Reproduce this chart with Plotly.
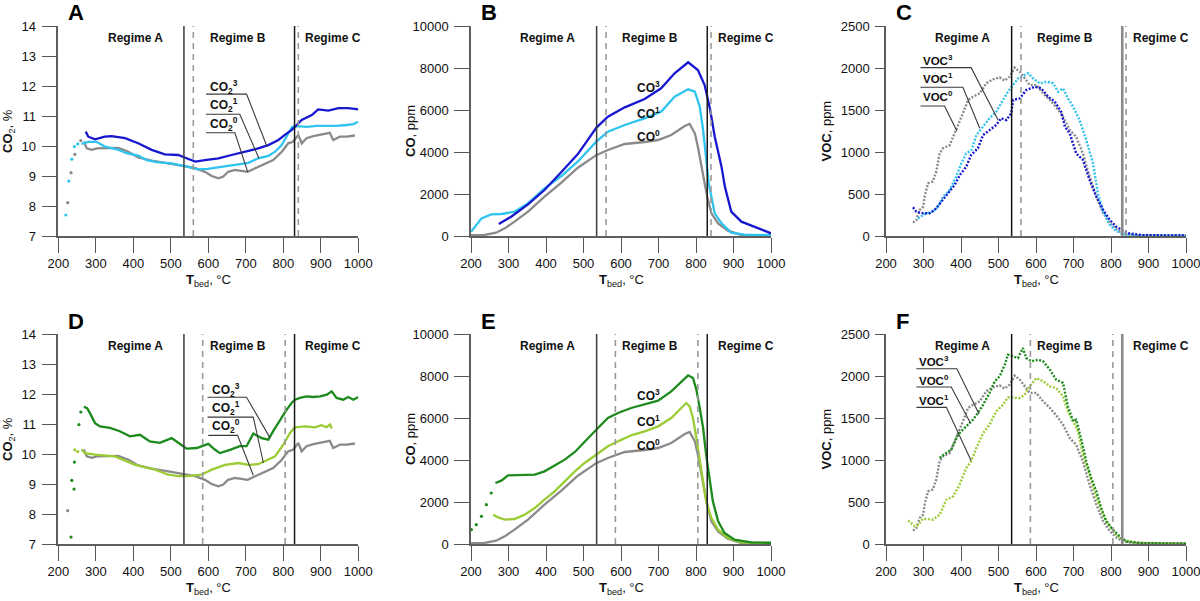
import plotly.graph_objects as go

# ---------------- DATA ----------------
T_CO2_REF_DOTS = [225, 234, 244, 260]
CO2_REF_DOTS = [8.11, 9.11, 9.72, 10.18]
T_CO2_REF = [268, 276, 289, 303, 360, 387, 413, 449, 493, 538, 565, 591, 609, 627, 640,
             653, 671, 689, 705, 725, 751, 773, 796, 813, 826, 840, 849, 862, 880, 898,
             916, 924, 933, 951, 969, 991]
CO2_REF = [10.15, 9.92, 9.87, 9.92, 9.94, 9.81, 9.62, 9.51, 9.42, 9.33, 9.26, 9.14, 9.00, 8.92, 8.98,
           9.14, 9.20, 9.17, 9.14, 9.26, 9.40, 9.53, 9.81, 10.09, 10.14, 10.37, 10.09, 10.26, 10.33, 10.37,
           10.42, 10.44, 10.20, 10.31, 10.31, 10.35]

T_A1_DOTS = [220, 228, 236, 243, 252]
CO2_A1_DOTS = [7.70, 8.83, 9.56, 9.98, 10.07]
T_A1 = [262, 280, 302, 324, 356, 382, 413, 436, 462, 502, 538, 573, 598, 636, 671,
        707, 733, 760, 778, 796, 813, 824, 836, 862, 889, 916, 942, 969, 987, 1000]
CO2_A1 = [10.07, 10.14, 10.14, 9.98, 9.89, 9.76, 9.68, 9.53, 9.46, 9.42, 9.33, 9.22, 9.24, 9.31, 9.37,
          9.44, 9.59, 9.67, 9.81, 10.03, 10.42, 10.64, 10.66, 10.64, 10.67, 10.67, 10.67, 10.70, 10.73, 10.81]
T_A3 = [273, 280, 298, 324, 342, 378, 413, 449, 484, 520, 542, 565, 591, 627, 662,
        698, 733, 760, 787, 804, 822, 836, 849, 876, 893, 920, 947, 973, 1000]
CO2_A3 = [10.48, 10.31, 10.22, 10.31, 10.33, 10.26, 10.09, 9.87, 9.72, 9.70, 9.59, 9.48, 9.53, 9.59, 9.70,
          9.81, 9.92, 10.03, 10.20, 10.37, 10.53, 10.70, 10.87, 11.03, 11.22, 11.18, 11.26, 11.26, 11.22]

T_D1_DOTS = [244, 252]
CO2_D1_DOTS = [10.14, 10.08]
T_D1 = [262, 271, 298, 351, 405, 458, 493, 520, 547, 582, 609, 645, 680, 707, 733,
        751, 778, 800, 818, 831, 858, 884, 902, 915, 925, 929]
CO2_D1 = [10.15, 10.03, 9.98, 9.92, 9.64, 9.48, 9.31, 9.26, 9.26, 9.31, 9.48, 9.64, 9.70, 9.64, 9.66,
          9.76, 9.92, 10.31, 10.70, 10.89, 10.92, 10.89, 10.96, 10.89, 10.98, 10.85]
T_D3_DOTS = [234, 236, 242, 243, 255, 260]
CO2_D3_DOTS = [7.23, 9.12, 8.83, 9.73, 10.98, 11.40]
T_D3 = [268, 277, 284, 298, 311, 338, 364, 391, 418, 444, 471, 502, 524, 542, 569,
        600, 618, 631, 658, 684, 702, 720, 742, 760, 773, 791, 809, 822, 831, 844,
        862, 880, 898, 916, 929, 942, 960, 973, 987, 1000]
CO2_D3 = [11.57, 11.53, 11.37, 11.03, 10.92, 10.87, 10.76, 10.59, 10.64, 10.42, 10.37, 10.53, 10.34, 10.18, 10.20,
          10.34, 10.14, 10.03, 10.14, 10.26, 10.26, 10.68, 10.53, 10.48, 10.76, 11.14, 11.48, 11.70, 11.81, 11.87,
          11.92, 11.90, 11.92, 11.98, 12.09, 11.87, 11.81, 11.90, 11.81, 11.90]

T_CO_REF = [200, 236, 267, 290, 316, 352, 396, 441, 485, 534, 565, 610, 663, 699, 734,
            770, 783, 797, 805, 814, 823, 830, 841, 859, 885, 920, 1000]
CO_REF = [40, 50, 159, 365, 683, 1159, 1873, 2540, 3250, 3850, 4095, 4381, 4476, 4571, 4810,
          5238, 5333, 4889, 4254, 3302, 2508, 1873, 1080, 603, 254, 50, 30]

T_B1 = [200, 228, 254, 281, 316, 352, 396, 441, 485, 534, 565, 610, 663, 707, 743,
        779, 797, 810, 819, 827, 834, 841, 850, 868, 894, 930, 1000]
CO_B1 = [200, 841, 1032, 1048, 1159, 1555, 2270, 2857, 3550, 4492, 4968, 5286, 5603, 5921, 6635,
         6984, 6873, 6159, 5048, 3619, 2508, 1873, 1080, 603, 159, 60, 40]
T_B3 = [274, 307, 352, 396, 441, 485, 534, 565, 610, 663, 707, 743, 779, 805, 823,
        837, 850, 868, 877, 894, 921, 965, 1000]
CO_B3 = [571, 920, 1508, 2190, 3050, 3900, 5150, 5682, 6127, 6524, 7032, 7746, 8270, 7905, 7190,
         6080, 4730, 3302, 2350, 1160, 683, 365, 127]

T_E1 = [259, 272, 290, 316, 343, 370, 396, 423, 450, 477, 503, 534, 565, 592, 627,
        663, 699, 734, 761, 774, 783, 792, 801, 810, 819, 827, 841, 859, 885, 920, 1000]
CO_E1 = [1397, 1270, 1159, 1190, 1397, 1714, 2111, 2508, 2984, 3460, 3857, 4254, 4651, 4889, 5175,
         5365, 5603, 6000, 6476, 6714, 6555, 6000, 5048, 3937, 2984, 2032, 1238, 683, 286, 80, 40]
T_E3_DOTS = [201, 214, 228, 241, 254]
CO_E3_DOTS = [683, 920, 1317, 1873, 2429]
T_E3 = [265, 281, 299, 325, 370, 396, 423, 450, 477, 503, 534, 565, 592, 627, 663,
        699, 734, 761, 779, 792, 801, 810, 819, 827, 836, 845, 859, 876, 903, 947, 1000]
CO_E3 = [2905, 3016, 3270, 3270, 3302, 3460, 3746, 4016, 4381, 4889, 5444, 6000, 6238, 6476, 6635,
         6825, 7270, 7746, 8032, 7905, 7350, 6476, 5524, 4254, 3143, 2032, 1079, 524, 206, 80, 60]

T_VOC_REF = [272, 281, 290, 299, 303, 312, 325, 334, 343, 352, 370, 383, 392, 405, 419,
             432, 450, 467, 485, 503, 516, 530, 543, 557, 570, 583, 601, 619, 637, 654,
             672, 690, 707, 725, 743, 761, 779, 797, 814, 832, 868, 1000]
VOC_REF = [159, 190, 310, 349, 468, 627, 650, 766, 984, 1044, 1083, 1222, 1302, 1460, 1619,
           1658, 1698, 1817, 1865, 1889, 1850, 1897, 2004, 1956, 1877, 1798, 1798, 1698, 1619, 1532,
           1420, 1262, 1182, 984, 706, 468, 270, 151, 80, 30, 10, 5]

T_C1 = [285, 307, 325, 339, 352, 370, 387, 401, 414, 428, 441, 459, 476, 494, 512,
        525, 539, 552, 579, 592, 610, 628, 646, 659, 672, 685, 699, 716, 734, 752,
        765, 779, 797, 814, 832, 868, 1000]
VOC_C1 = [210, 270, 290, 349, 468, 547, 706, 865, 984, 1023, 1202, 1302, 1401, 1480, 1619,
          1718, 1798, 1877, 1937, 1877, 1817, 1837, 1817, 1718, 1758, 1639, 1540, 1381, 1143, 865,
          508, 290, 131, 60, 20, 8, 5]
T_C3 = [272, 281, 299, 316, 330, 348, 365, 383, 397, 414, 427, 445, 459, 476, 494,
        507, 521, 534, 539, 557, 574, 597, 614, 632, 650, 667, 677, 690, 707, 725,
        743, 761, 779, 797, 814, 832, 850, 885, 1000]
VOC_C3 = [341, 290, 270, 270, 310, 409, 508, 607, 726, 825, 964, 1044, 1202, 1262, 1321,
          1401, 1381, 1460, 1619, 1639, 1738, 1778, 1758, 1658, 1599, 1480, 1302, 1222, 984, 905,
          667, 468, 310, 190, 111, 64, 30, 10, 5]

T_F1 = [259, 277, 286, 299, 325, 343, 361, 379, 396, 414, 427, 441, 459, 476, 494,
        512, 525, 543, 557, 570, 583, 601, 619, 637, 654, 672, 685, 699, 712, 725,
        743, 761, 779, 797, 814, 832, 868, 1000]
VOC_F1 = [278, 210, 230, 302, 290, 349, 528, 567, 706, 905, 984, 1143, 1321, 1420, 1580,
          1658, 1746, 1746, 1738, 1778, 1877, 1976, 1937, 1877, 1857, 1758, 1580, 1460, 1341, 1063,
          825, 548, 349, 210, 111, 50, 15, 5]
T_F3 = [343, 356, 374, 392, 405, 419, 432, 445, 459, 476, 490, 503, 517, 525, 539,
        552, 565, 574, 588, 606, 619, 637, 654, 672, 685, 699, 707, 721, 734, 747,
        761, 774, 787, 805, 823, 841, 885, 1000]
VOC_F3 = [1024, 1071, 1123, 1301, 1361, 1420, 1480, 1560, 1658, 1798, 1937, 1996, 2135, 2254, 2234,
          2214, 2333, 2214, 2175, 2194, 2175, 2075, 1956, 1917, 1639, 1460, 1480, 1242, 984, 786,
          627, 428, 270, 171, 91, 30, 10, 5]

SOLID_TOP = [535, 830]
DASH_TOP = [560, 840]
SOLID_BOT = [535, 830]
DASH_BOT = [585, 805]
REGIME_NAMES = ["Regime A", "Regime B", "Regime C"]
REGIME_X = [405, 678, 933]

# ---------------- STYLE / LAYOUT ----------------
FONT = "Liberation Sans, Arial, Helvetica, sans-serif"
BLUE = "#1717cf"
CYAN = "#2fc4ef"
GRAY = "#8a8a8a"
DGREEN = "#1c8a1c"
LGREEN = "#9bcb35"
AXC = "#5e5e5e"
TICKC = "#555555"

W, H = 1200, 601
COLS = [(58.3, 358.3), (471.0, 771.0), (886.0, 1186.0)]
ROWS = [(26.0, 236.0), (334.0, 544.0)]
XMIN, XMAX, XMINOR = 200, 1000, 20


def pxx(px):
    return px / W


def pxy(py):
    return (H - py) / H


panels = [
    dict(i=1, c=0, r=0, yr=[7, 14], dt=1, mdt=0.2, letter="A", yt="<b>CO</b><sub>2</sub>, %", tl=15, mtl=7),
    dict(i=2, c=1, r=0, yr=[0, 10000], dt=2000, mdt=400, letter="B", yt="<b>CO</b>, ppm", tl=15, mtl=7),
    dict(i=3, c=2, r=0, yr=[0, 2500], dt=500, mdt=100, letter="C", yt="<b>VOC</b>, ppm", tl=9, mtl=5),
    dict(i=4, c=0, r=1, yr=[7, 14], dt=1, mdt=0.2, letter="D", yt="<b>CO</b><sub>2</sub>, %", tl=15, mtl=7),
    dict(i=5, c=1, r=1, yr=[0, 10000], dt=2000, mdt=400, letter="E", yt="<b>CO</b>, ppm", tl=15, mtl=7),
    dict(i=6, c=2, r=1, yr=[0, 2500], dt=500, mdt=100, letter="F", yt="<b>VOC</b>, ppm", tl=9, mtl=5),
]

fig = go.Figure()


def ax(i):
    return ("x" if i == 1 else f"x{i}"), ("y" if i == 1 else f"y{i}")


def add(i, x, y, color, width=2.3, dash=None, mode="lines", msize=3.2):
    xa, ya = ax(i)
    fig.add_trace(go.Scatter(
        x=x, y=y, mode=mode, xaxis=xa, yaxis=ya, showlegend=False, hoverinfo="skip",
        line=dict(color=color, width=width, dash=dash),
        marker=dict(color=color, size=msize),
    ))


VOCDASH = "2px,1.6px"

add(1, T_CO2_REF_DOTS, CO2_REF_DOTS, GRAY, mode="markers")
add(1, T_CO2_REF, CO2_REF, GRAY)
add(1, T_A1_DOTS, CO2_A1_DOTS, CYAN, mode="markers")
add(1, T_A1, CO2_A1, CYAN)
add(1, T_A3, CO2_A3, BLUE)
add(2, T_CO_REF, CO_REF, GRAY)
add(2, T_B1, CO_B1, CYAN)
add(2, T_B3, CO_B3, BLUE)
add(3, T_VOC_REF, VOC_REF, GRAY, width=2.4, dash=VOCDASH)
add(3, T_C1, VOC_C1, CYAN, width=2.4, dash=VOCDASH)
add(3, T_C3, VOC_C3, BLUE, width=2.4, dash=VOCDASH)
add(4, T_CO2_REF_DOTS[:1], CO2_REF_DOTS[:1], GRAY, mode="markers")
add(4, T_CO2_REF, CO2_REF, GRAY)
add(4, T_D1_DOTS, CO2_D1_DOTS, LGREEN, mode="markers")
add(4, T_D1, CO2_D1, LGREEN)
add(4, T_D3_DOTS, CO2_D3_DOTS, DGREEN, mode="markers")
add(4, T_D3, CO2_D3, DGREEN)
add(5, T_CO_REF, CO_REF, GRAY)
add(5, T_E1, CO_E1, LGREEN)
add(5, T_E3_DOTS, CO_E3_DOTS, DGREEN, mode="markers")
add(5, T_E3, CO_E3, DGREEN)
add(6, T_VOC_REF, VOC_REF, GRAY, width=2.4, dash=VOCDASH)
add(6, T_F1, VOC_F1, LGREEN, width=2.4, dash=VOCDASH)
add(6, T_F3, VOC_F3, DGREEN, width=2.4, dash=VOCDASH)

layout = dict(
    width=W, height=H, margin=dict(l=0, r=0, t=0, b=0, autoexpand=False),
    paper_bgcolor="white", plot_bgcolor="rgba(0,0,0,0)",
    font=dict(family=FONT, size=13, color="#111"),
    showlegend=False,
)
shapes = []
annotations = []

for p in panels:
    i = p["i"]
    c0, c1 = COLS[p["c"]]
    r0, r1 = ROWS[p["r"]]
    xa, ya = ax(i)
    xkey = "xaxis" if i == 1 else f"xaxis{i}"
    ykey = "yaxis" if i == 1 else f"yaxis{i}"
    layout[xkey] = dict(
        domain=[pxx(c0), pxx(c1)], anchor=ya, range=[XMIN, XMAX], automargin=False,
        tickmode="linear", tick0=XMIN, dtick=100, tickformat="d", ticklabeloverflow="allow",
        showline=True, linecolor=AXC, linewidth=1.5, showgrid=False, zeroline=False,
        ticks="outside", ticklen=15, tickwidth=1.4, tickcolor=TICKC,
        tickfont=dict(family=FONT, size=13, color="#111"),
    )
    layout[ykey] = dict(
        domain=[pxy(r1), pxy(r0)], anchor=xa, range=p["yr"], automargin=False,
        tickmode="linear", dtick=p["dt"], tick0=p["yr"][0], tickformat="d", ticklabeloverflow="allow",
        showline=True, linecolor=AXC, linewidth=1.5, showgrid=False, zeroline=False,
        ticks="outside", ticklen=p["tl"], tickwidth=1.4, tickcolor=TICKC,
        ticklabelstandoff=3, tickfont=dict(family=FONT, size=13, color="#111"),
    )

    # ---- tick marks (major + minor) as unclipped line-shaped markers just outside the axes ----
    y0, y1 = p["yr"]
    xs_per_px = (XMAX - XMIN) / (c1 - c0)
    ys_per_px = (y1 - y0) / (r1 - r0)
    nx = int((XMAX - XMIN) / XMINOR)
    tx, ty, ts = [], [], []
    for k in range(nx + 1):
        v = XMIN + k * XMINOR
        ln = 16 if v % 100 == 0 else 9
        tx.append(v)
        ty.append(y0 - ln / 2 * ys_per_px)
        ts.append(ln)
    fig.add_trace(go.Scatter(x=tx, y=ty, mode="markers", xaxis=xa, yaxis=ya, cliponaxis=False,
                             marker=dict(symbol="line-ns-open", size=ts, color=TICKC,
                                         line=dict(color=TICKC, width=1.4)),
                             showlegend=False, hoverinfo="skip"))
    ny = int(round((y1 - y0) / p["mdt"]))
    per = int(round(p["dt"] / p["mdt"]))
    ux, uy, us = [], [], []
    for k in range(ny + 1):
        v = y0 + k * p["mdt"]
        ln = p["tl"] if k % per == 0 else p["mtl"]
        ux.append(XMIN - ln / 2 * xs_per_px)
        uy.append(v)
        us.append(ln)
    fig.add_trace(go.Scatter(x=ux, y=uy, mode="markers", xaxis=xa, yaxis=ya, cliponaxis=False,
                             marker=dict(symbol="line-ew-open", size=us, color=TICKC,
                                         line=dict(color=TICKC, width=1.4)),
                             showlegend=False, hoverinfo="skip"))

    solids = SOLID_TOP if p["r"] == 0 else SOLID_BOT
    dashes = DASH_TOP if p["r"] == 0 else DASH_BOT
    for k, v in enumerate(solids):
        if p["c"] == 2 and k == 1:
            st = dict(color="#8a8a8a", width=2.6)
        elif p["c"] == 2:
            st = dict(color="#111", width=1.5)
        else:
            st = dict(color="#3c3c3c" if k == 0 else "#1a1a1a", width=1.5)
        shapes.append(dict(type="line", xref=xa, yref=f"{ya} domain", x0=v, x1=v, y0=0, y1=1, line=st, layer="above"))
    for v in dashes:
        shapes.append(dict(type="line", xref=xa, yref=f"{ya} domain", x0=v, x1=v, y0=0, y1=1,
                           line=dict(color="#9a9a9a", width=1.6, dash="6px,5px"), layer="above"))

    for name, xv in zip(REGIME_NAMES, REGIME_X):
        annotations.append(dict(text=f"<b>{name}</b>", xref=xa, yref="paper", x=xv, y=pxy(r0 + 12),
                                showarrow=False, xanchor="center", yanchor="middle",
                                font=dict(family=FONT, size=12, color="#111")))

    annotations.append(dict(text=f"<b>{p['letter']}</b>", xref="paper", yref="paper",
                            x=pxx(c0 + 8), y=pxy(r0 - 13), showarrow=False, xanchor="left", yanchor="middle",
                            font=dict(family=FONT, size=22, color="#000")))

    ytx = [8, 410, 825.5][p["c"]]
    annotations.append(dict(text=p["yt"], xref="paper", yref="paper", x=pxx(ytx), y=pxy((r0 + r1) / 2),
                            showarrow=False, textangle=-90, xanchor="center", yanchor="middle",
                            font=dict(family=FONT, size=13, color="#111")))
    annotations.append(dict(text="<b>T</b><sub>bed</sub>, °C", xref="paper", yref="paper",
                            x=pxx((c0 + c1) / 2), y=pxy(r1 + 44), showarrow=False,
                            xanchor="center", yanchor="middle",
                            font=dict(family=FONT, size=13, color="#111")))

labels = [
    (1, "CO<sub>2</sub><sup>3</sup>", 598, 11.98, [(594, 11.73), (702, 11.73), (756, 10.0)], 12),
    (1, "CO<sub>2</sub><sup>1</sup>", 598, 11.37, [(594, 11.06), (684, 11.06), (735, 9.59)], 12),
    (1, "CO<sub>2</sub><sup>0</sup>", 598, 10.73, [(594, 10.44), (671, 10.44), (705, 9.14)], 12),
    (4, "CO<sub>2</sub><sup>3</sup>", 605, 12.14, [(598, 11.89), (702, 11.89), (765, 10.53)], 12),
    (4, "CO<sub>2</sub><sup>1</sup>", 605, 11.53, [(598, 11.23), (720, 11.23), (747, 9.70)], 12),
    (4, "CO<sub>2</sub><sup>0</sup>", 605, 10.92, [(600, 10.62), (678, 10.62), (720, 9.29)], 12),
    (2, "CO<sup>3</sup>", 637, 7110, None, 12),
    (2, "CO<sup>1</sup>", 637, 5843, None, 12),
    (2, "CO<sup>0</sup>", 637, 4778, None, 12),
    (5, "CO<sup>3</sup>", 637, 7111, None, 12),
    (5, "CO<sup>1</sup>", 637, 5841, None, 12),
    (5, "CO<sup>0</sup>", 637, 4730, None, 12),
    (3, "VOC<sup>3</sup>", 293, 2095, [(292, 2004), (427, 2004), (499, 1381)], 11.5),
    (3, "VOC<sup>1</sup>", 293, 1877, [(292, 1770), (405, 1770), (450, 1282)], 11.5),
    (3, "VOC<sup>0</sup>", 293, 1667, [(292, 1548), (356, 1548), (389, 1250)], 11.5),
    (6, "VOC<sup>3</sup>", 282, 2175, [(281, 2087), (389, 2087), (448, 1548)], 11.5),
    (6, "VOC<sup>0</sup>", 282, 1956, [(281, 1869), (374, 1869), (425, 1440)], 11.5),
    (6, "VOC<sup>1</sup>", 282, 1718, [(281, 1627), (361, 1627), (427, 992)], 11.5),
]
for i, txt, tx, ty, pts, fs in labels:
    xa, ya = ax(i)
    annotations.append(dict(text=f"<b>{txt}</b>", xref=xa, yref=ya, x=tx, y=ty, showarrow=False,
                            xanchor="left", yanchor="middle", font=dict(family=FONT, size=fs, color="#111")))
    if pts:
        path = "M " + " L ".join(f"{a},{b}" for a, b in pts)
        shapes.append(dict(type="path", xref=xa, yref=ya, path=path,
                           line=dict(color="#3a3a3a", width=1.1), layer="above"))

layout["shapes"] = shapes
layout["annotations"] = annotations
fig.update_layout(**layout)
fig.write_html("out.html", config={"displayModeBar": False},
               post_script="document.body.style.margin='0';document.body.style.overflow='hidden';")
